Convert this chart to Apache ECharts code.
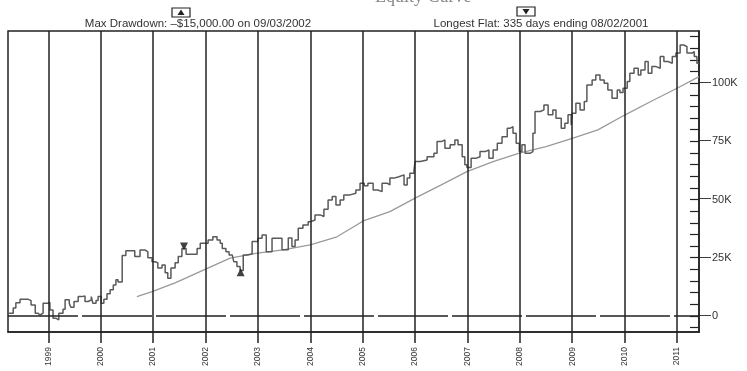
<!DOCTYPE html>
<html>
<head>
<meta charset="utf-8">
<script src="https://cdn.jsdelivr.net/npm/echarts@6/dist/echarts.min.js"></script>
<style>
  html, body { margin: 0; padding: 0; background: #fff; }
  #chart { width: 747px; height: 371px; }
</style>
</head>
<body>
<div id="chart"></div>
<script>
// year grid lines / labels
const years = [1999, 2000, 2001, 2002, 2003, 2004, 2005, 2006, 2007, 2008, 2009, 2010, 2011];
const valueTicks = [0, 25, 50, 75, 100];

// equity curve (decimal year, value in $K)
const equityT = [1998.23, 1998.33, 1998.38, 1998.46, 1998.61, 1998.67, 1998.75, 1998.80, 1998.84, 1998.90,
  1998.98, 1999.03, 1999.09, 1999.15, 1999.20, 1999.28, 1999.32, 1999.40, 1999.43, 1999.49,
  1999.57, 1999.64, 1999.70, 1999.76, 1999.82, 1999.85, 1999.91, 1999.95, 2000.01, 2000.06,
  2000.12, 2000.18, 2000.24, 2000.29, 2000.33, 2000.41, 2000.48, 2000.65, 2000.75, 2000.85,
  2000.90, 2000.98, 2001.04, 2001.09, 2001.17, 2001.23, 2001.28, 2001.34, 2001.42, 2001.48,
  2001.55, 2001.63, 2001.84, 2001.90, 2002.05, 2002.14, 2002.22, 2002.28, 2002.32, 2002.39,
  2002.45, 2002.51, 2002.54, 2002.60, 2002.66, 2002.72, 2002.79, 2002.89, 2003.00, 2003.08,
  2003.16, 2003.27, 2003.46, 2003.58, 2003.65, 2003.71, 2003.77, 2003.86, 2003.96, 2004.01,
  2004.09, 2004.19, 2004.26, 2004.34, 2004.42, 2004.49, 2004.57, 2004.64, 2004.76, 2004.87,
  2004.95, 2005.03, 2005.10, 2005.20, 2005.29, 2005.37, 2005.47, 2005.52, 2005.60, 2005.69,
  2005.79, 2005.85, 2005.90, 2005.98, 2006.00, 2006.10, 2006.23, 2006.36, 2006.42, 2006.50,
  2006.57, 2006.67, 2006.76, 2006.82, 2006.90, 2006.95, 2006.99, 2007.07, 2007.16, 2007.24,
  2007.34, 2007.41, 2007.49, 2007.57, 2007.66, 2007.76, 2007.81, 2007.87, 2007.93, 2007.99,
  2008.04, 2008.10, 2008.20, 2008.25, 2008.29, 2008.39, 2008.46, 2008.54, 2008.63, 2008.69,
  2008.79, 2008.86, 2008.92, 2008.98, 2009.00, 2009.07, 2009.15, 2009.23, 2009.28, 2009.38,
  2009.45, 2009.53, 2009.61, 2009.68, 2009.76, 2009.86, 2009.91, 2009.97, 2010.05, 2010.10,
  2010.18, 2010.26, 2010.31, 2010.39, 2010.45, 2010.52, 2010.60, 2010.68, 2010.75, 2010.83,
  2010.91, 2010.98, 2011.06, 2011.13, 2011.19, 2011.29, 2011.33, 2011.38, 2011.42];
const equityK = [1.2, 3.4, 5.7, 7.2, 6.6, 4.7, 1.2, 0.4, 1.2, 5.4,
  5.8, 2.6, -1.0, -1.7, 1.2, 2.9, 6.9, 5.4, 3.7, 6.2,
  8.3, 8.6, 6.2, 6.9, 8.3, 5.4, 6.6, 8.3, 5.4, 7.2,
  9.5, 11.2, 13.3, 15.5, 14.6, 26.0, 28.0, 25.5, 28.3, 27.5,
  25.0, 23.3, 22.8, 20.6, 21.9, 18.5, 16.2, 20.6, 22.8, 25.5,
  29.0, 26.5, 29.0, 31.2, 32.6, 34.0, 32.6, 31.2, 29.0, 27.6,
  26.2, 25.5, 23.3, 21.2, 19.5, 26.2, 26.6, 32.0, 33.4, 34.8,
  27.6, 33.4, 28.4, 33.5, 29.8, 32.6, 37.7, 39.1, 40.5, 41.2,
  43.4, 42.7, 45.8, 49.8, 51.3, 47.7, 49.8, 52.0, 52.7, 54.1,
  57.0, 55.9, 57.0, 54.1, 53.4, 57.0, 56.3, 59.2, 59.8, 60.6,
  56.3, 59.2, 61.3, 62.7, 66.3, 67.0, 68.4, 69.9, 74.9, 75.6,
  72.0, 73.5, 75.6, 73.5, 68.4, 64.9, 63.8, 67.7, 68.4, 70.6,
  71.3, 67.7, 71.3, 74.2, 77.0, 80.6, 81.3, 78.5, 74.2, 70.6,
  73.5, 69.9, 70.6, 78.5, 87.8, 88.5, 90.6, 86.4, 88.5, 84.9,
  80.6, 82.8, 86.4, 82.0, 87.1, 91.4, 88.5, 92.1, 99.2, 101.4,
  103.5, 101.4, 100.0, 97.1, 93.5, 97.1, 96.0, 97.8, 100.7, 104.3,
  106.4, 103.5, 105.7, 109.3, 104.3, 107.1, 106.4, 111.4, 109.3, 108.5,
  111.4, 112.9, 116.4, 115.7, 112.9, 113.6, 111.4, 108.5, 108.5];

// moving average of equity
const avgT = [2000.69, 2000.98, 2001.42, 2001.97, 2002.47, 2002.96, 2003.48, 2004.00, 2004.51, 2005.01,
  2005.52, 2006.00, 2006.50, 2006.99, 2007.49, 2007.99, 2008.50, 2009.00, 2009.49, 2010.01,
  2010.50, 2011.00, 2011.42];
const avgK = [8.3, 10.4, 14.2, 19.8, 24.8, 26.9, 28.4, 30.5, 34.0, 40.8,
  44.8, 50.6, 56.3, 62.0, 66.3, 69.9, 72.7, 76.3, 79.9, 86.4,
  92.1, 97.8, 102.8];

// flat / drawdown markers
const markerT = [2001.59, 2002.67];
const markerK = [29.8, 18.8];
const markerRot = [180, 0];

const chart = echarts.init(document.getElementById('chart'));

const minorTicks = [];
for (let v = -5; v <= 120; v += 5) minorTicks.push(v);

const fontName = '"Liberation Sans", Arial, sans-serif';

const option = {
    animation: false,
    backgroundColor: '#fff',
    grid: {
        left: 8, right: 48, top: 31, bottom: 39,
        show: true, borderColor: '#222', borderWidth: 1.5
    },
    xAxis: {
        type: 'value',
        min: 1998.23,
        max: 2011.42,
        axisLine: { show: true, onZero: false, lineStyle: { color: '#222', width: 1.5 } },
        splitLine: { show: false },
        axisTick: {
            show: true,
            customValues: years,
            inside: false,
            length: 11,
            lineStyle: { color: '#222', width: 1.5 }
        },
        axisLabel: {
            customValues: years,
            rotate: 90,
            margin: 15,
            fontSize: 8.5,
            fontFamily: fontName,
            color: '#333',
            formatter: v => String(v)
        }
    },
    yAxis: [{
        type: 'value',
        position: 'right',
        min: -6.9,
        max: 122.4,
        axisLine: { show: true, lineStyle: { color: '#222', width: 1.5 } },
        splitLine: { show: false },
        axisTick: {
            show: true,
            customValues: minorTicks,
            inside: true,
            length: 9,
            lineStyle: { color: '#222', width: 1.2 }
        },
        axisLabel: {
            customValues: valueTicks,
            margin: 0,
            fontSize: 11,
            fontFamily: fontName,
            color: '#333',
            // outward major tick drawn as a dash in front of the label
            formatter: v => '{t|\u2014}{l|' + (v === 0 ? '0' : v + 'K') + '}',
            rich: {
                t: { fontSize: 12, fontFamily: fontName, color: '#222', padding: [0, 0, 1, 0] },
                l: { fontSize: 11, fontFamily: fontName, color: '#333', padding: [0, 0, 0, 1] }
            }
        }
    }],
    graphic: [
        {
            type: 'text', left: 375, top: -12,
            style: { text: 'Equity Curve', font: '18px "Liberation Serif", serif', fill: '#888', textAlign: 'center' }
        },
        {
            type: 'text', x: 198, y: 24,
            style: { text: 'Max Drawdown: \u2013$15,000.00 on 09/03/2002', font: '11.5px ' + fontName, fill: '#333', textAlign: 'center', textVerticalAlign: 'middle' }
        },
        {
            type: 'text', x: 541, y: 24,
            style: { text: 'Longest Flat: 335 days ending 08/02/2001', font: '11.5px ' + fontName, fill: '#333', textAlign: 'center', textVerticalAlign: 'middle' }
        },
        {
            type: 'rect', shape: { x: 172, y: 8, width: 18, height: 9 },
            style: { fill: '#fff', stroke: '#222', lineWidth: 1.2 }
        },
        {
            type: 'polygon', shape: { points: [[181, 9.5], [177.5, 15], [184.5, 15]] },
            style: { fill: '#222' }
        },
        {
            type: 'rect', shape: { x: 517, y: 7, width: 18, height: 9 },
            style: { fill: '#fff', stroke: '#222', lineWidth: 1.2 }
        },
        {
            type: 'polygon', shape: { points: [[522.5, 9], [529.5, 9], [526, 14.5]] },
            style: { fill: '#222' }
        }
    ],
    series: [{
        name: 'Average',
        type: 'line',
        data: avgT.map((t, i) => [t, avgK[i]]),
        showSymbol: false,
        smooth: false,
        lineStyle: { color: '#9a9a9a', width: 1.3 },
        z: 3
    }, {
        name: 'Equity',
        type: 'line',
        step: 'end',
        data: equityT.map((t, i) => [t, equityK[i]]),
        showSymbol: false,
        lineStyle: { color: '#5a5a5a', width: 1.5 },
        z: 4,
        markLine: {
            silent: true,
            symbol: 'none',
            label: { show: false },
            lineStyle: { color: '#222', width: 1.5, type: 'solid' },
            data: years.map(y => ({ xAxis: y })).concat([{
                yAxis: 0,
                lineStyle: { color: '#222', width: 1.5, type: [70, 4] }
            }])
        }
    }, {
        name: 'Markers',
        type: 'scatter',
        data: markerT.map((t, i) => ({ value: [t, markerK[i]], symbolRotate: markerRot[i] })),
        symbol: 'triangle',
        symbolSize: [8, 8],
        itemStyle: { color: '#111' },
        z: 5
    }]
};

chart.setOption(option);
</script>
</body>
</html>
